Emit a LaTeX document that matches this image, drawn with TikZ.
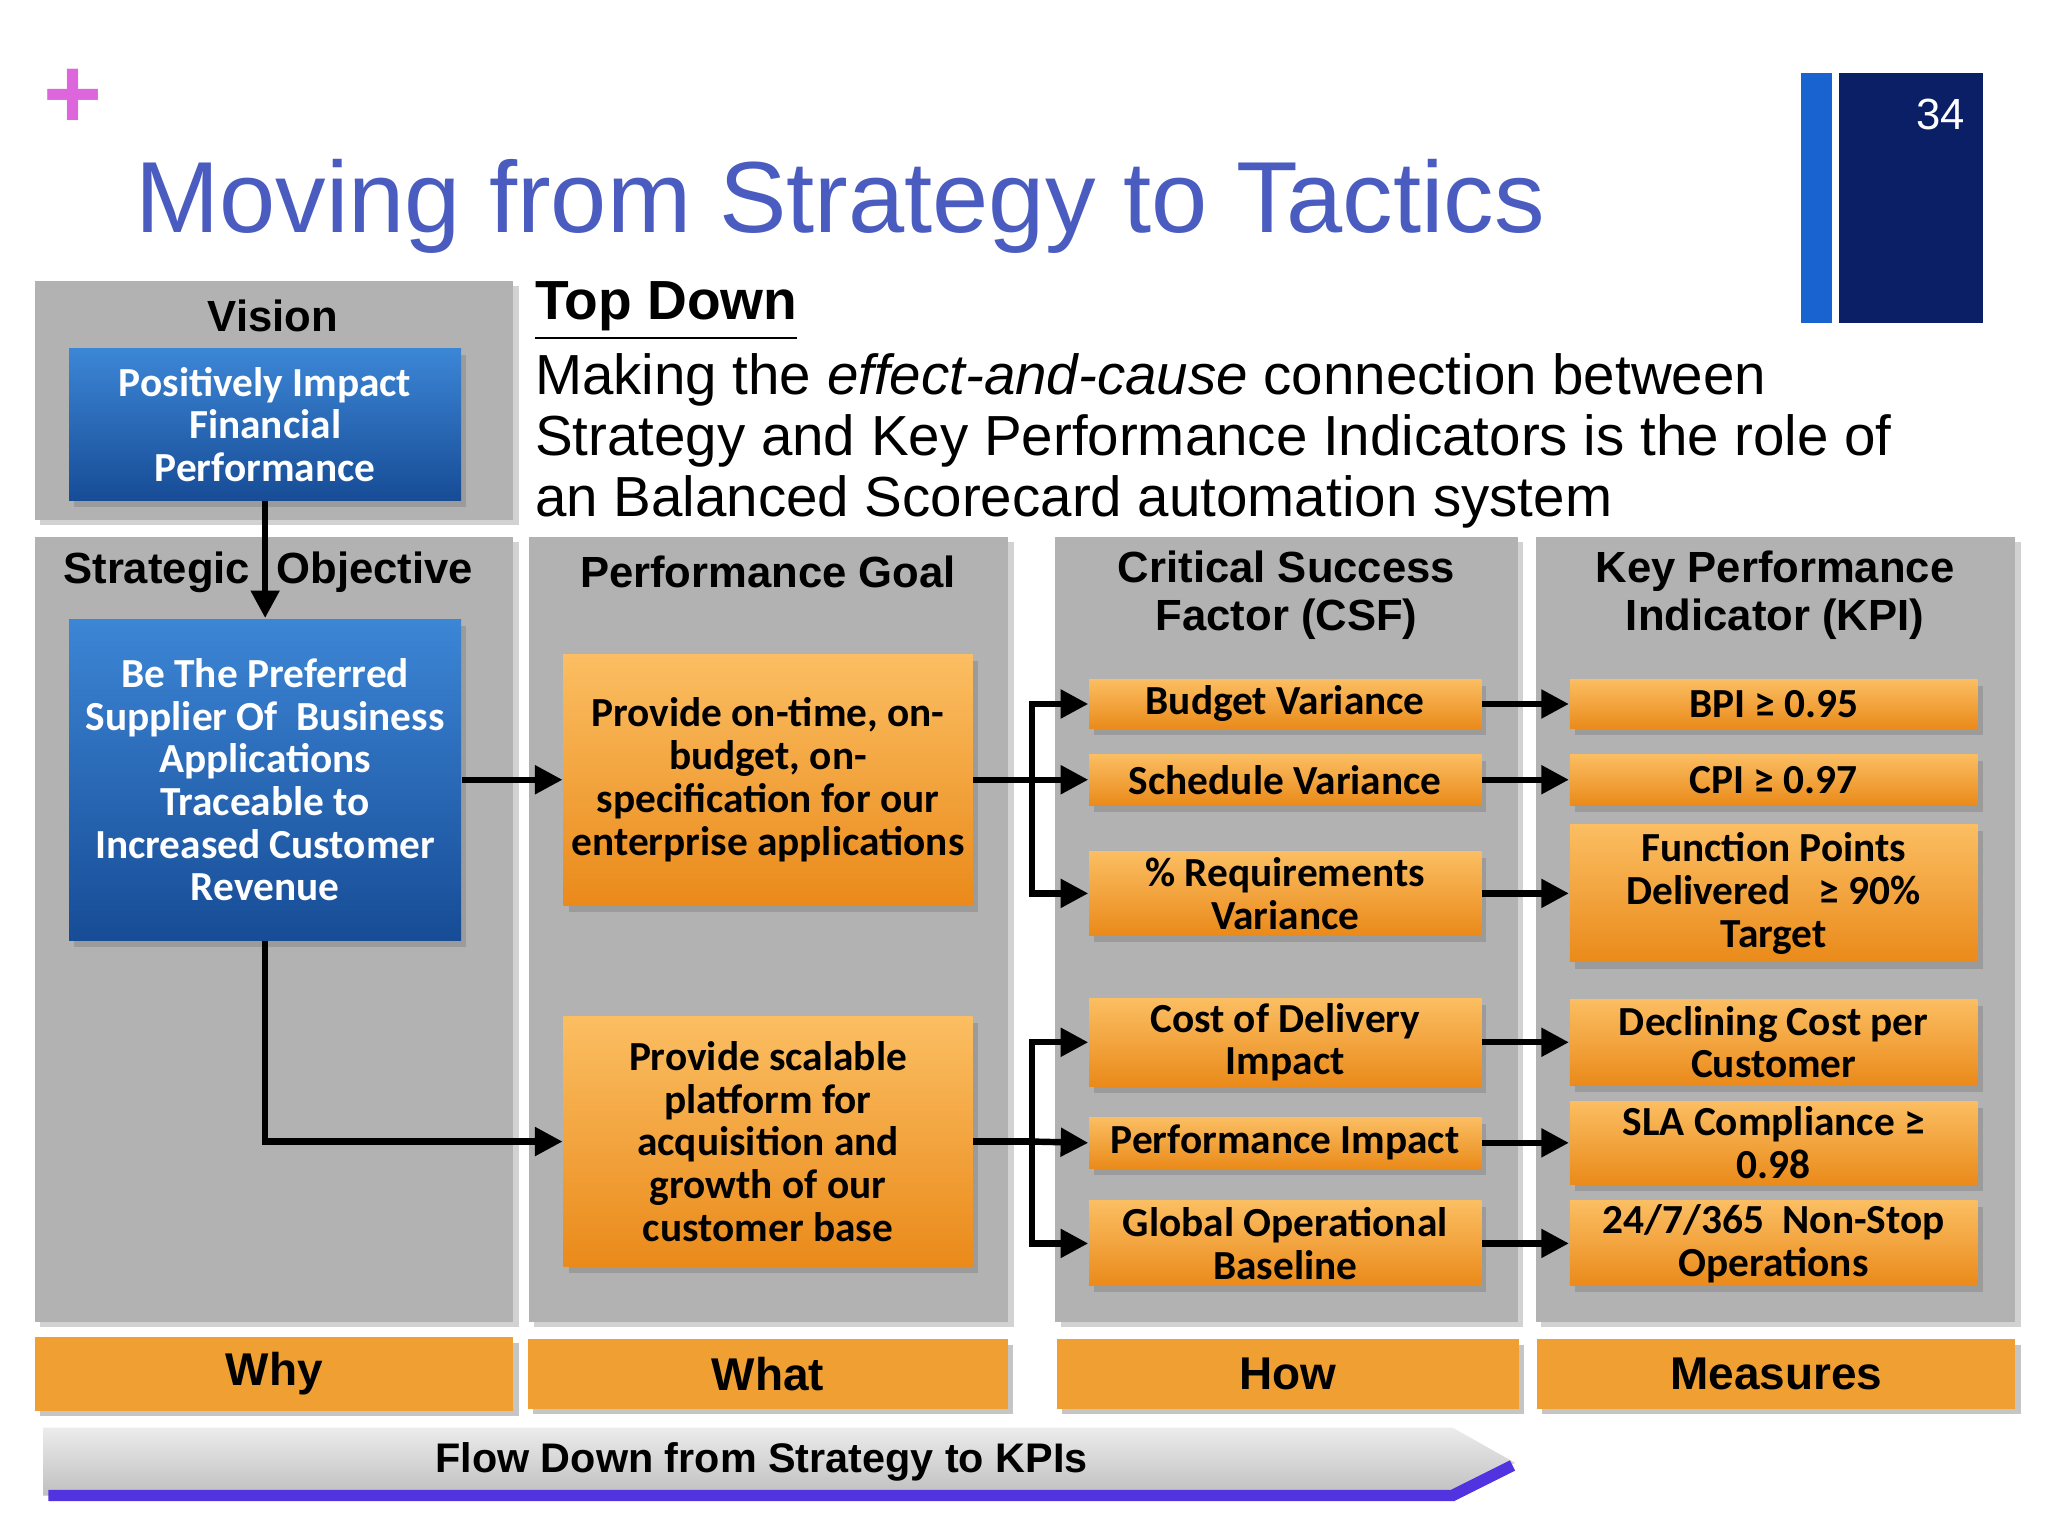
\documentclass[tikz,border=0pt]{standalone}
\usepackage{fontspec}
\setmainfont{Liberation Sans}
\newfontfamily\boxfont{Carlito}
\usetikzlibrary{shadows,arrows.meta}
\definecolor{ttl}{HTML}{4A5CC0}
\definecolor{panel}{HTML}{B2B2B2}
\definecolor{otop}{HTML}{FBBE62}
\definecolor{obot}{HTML}{EA8A1A}
\definecolor{btop}{HTML}{3C86D6}
\definecolor{bbot}{HTML}{174C96}
\definecolor{barc}{HTML}{F0A033}
\definecolor{navy}{HTML}{0A1F66}
\tikzset{
 panel/.style={draw=none,fill=panel,drop shadow={opacity=0.35,shadow xshift=0.04cm,shadow yshift=-0.04cm}},
 ob/.style={draw=none,top color=otop,bottom color=obot,
   font=\boxfont\bfseries\fontsize{9}{9.3}\selectfont,align=center,inner sep=0pt,
   drop shadow={opacity=0.45,shadow xshift=0.04cm,shadow yshift=-0.05cm}},
 bb/.style={draw=none,top color=btop,bottom color=bbot,
   text=white,font=\boxfont\bfseries\fontsize{9}{9.3}\selectfont,align=center,inner sep=0pt,
   drop shadow={opacity=0.45,shadow xshift=0.04cm,shadow yshift=-0.05cm}},
 hd/.style={font=\bfseries\fontsize{9.5}{10.5}\selectfont,align=center},
 bar/.style={draw=none,fill=barc,font=\bfseries\fontsize{10}{12}\selectfont,
   drop shadow={opacity=0.45,shadow xshift=0.04cm,shadow yshift=-0.04cm}},
 ar/.style={line width=1.4pt,-{Triangle[length=6pt,width=6pt]}},
 ln/.style={line width=1.4pt}
}
\begin{document}
\begin{tikzpicture}[x=0.01cm,y=-0.01cm]
\useasboundingbox (0,0) rectangle (1568,1176);
\fill[white] (0,0) rectangle (1568,1176);
% header
\node[text=violet!45!magenta!60!white,font=\bfseries\fontsize{22}{22}\selectfont] (plus) at (56,76) {+};
\node[anchor=base west,text=ttl,font=\fontsize{22}{26}\selectfont,inner sep=0pt] (title) at (103,178) {Moving from Strategy to Tactics};
\fill[blue!60!cyan!80!black!90] (1379,56) rectangle (1403,247);
\fill[navy] (1408,56) rectangle (1518,247);
\node[text=white,font=\fontsize{9.5}{12}\selectfont] (num) at (1486,88) {34};
% top down text
\node[anchor=base west,inner sep=0pt,font=\bfseries\fontsize{12}{14}\selectfont] (td) at (409,245) {\underline{Top Down}};
\node[anchor=north west,inner sep=0pt,align=left,font=\fontsize{12.3}{13.3}\selectfont] (para) at (409,270)
 {Making the \textit{effect-and-cause} connection between\\Strategy and Key Performance Indicators is the role of\\an Balanced Scorecard automation system};
% panels
\path[panel] (27,215) rectangle (393,398);
\path[panel] (27,411) rectangle (393,1012);
\path[panel] (405,411) rectangle (772,1012);
\path[panel] (808,411) rectangle (1162,1012);
\path[panel] (1176,411) rectangle (1543,1012);
\node[hd] (hv) at (209,242) {Vision};
\node[hd] (h1a) at (120,438) {Strategic};
\node[hd] (h1b) at (287,438) {Objective};
\node[hd] (h2) at (588,438) {Performance Goal};
\node[hd] (h3) at (985,456) {Critical Success\\Factor (CSF)};
\node[hd] (h4) at (1359,456) {Key Performance\\Indicator (KPI)};
% blue boxes
\node[bb,minimum width=3cm,minimum height=1.16cm] (vis) at (203,325) {Positively Impact\\Financial\\Performance};
\node[bb,minimum width=3cm,minimum height=2.46cm] (obj) at (203,597) {Be The Preferred\\Supplier Of\ \ Business\\Applications\\Traceable to\\Increased Customer\\Revenue};
% goals
\node[ob,minimum width=3.13cm,minimum height=1.92cm] (g1) at (588,597) {Provide on-time, on-\\budget, on-\\specification for our\\enterprise applications};
\node[ob,minimum width=3.13cm,minimum height=1.91cm] (g2) at (588,874) {Provide scalable\\platform for\\acquisition and\\growth of our\\customer base};
% CSF
\node[ob,minimum width=3cm,minimum height=0.38cm] (c1) at (984,539) {Budget Variance};
\node[ob,minimum width=3cm,minimum height=0.39cm] (c2) at (984,597) {Schedule Variance};
\node[ob,minimum width=3cm,minimum height=0.64cm] (c3) at (984,684) {\% Requirements\\Variance};
\node[ob,minimum width=3cm,minimum height=0.67cm] (c4) at (984,798) {Cost of Delivery\\Impact};
\node[ob,minimum width=3cm,minimum height=0.39cm] (c5) at (984,875) {Performance Impact};
\node[ob,minimum width=3cm,minimum height=0.65cm] (c6) at (984,952) {Global Operational\\Baseline};
% KPI
\node[ob,minimum width=3.12cm,minimum height=0.38cm] (k1) at (1358,539) {BPI ≥ 0.95};
\node[ob,minimum width=3.12cm,minimum height=0.39cm] (k2) at (1358,597) {CPI ≥ 0.97};
\node[ob,minimum width=3.12cm,minimum height=1.05cm] (k3) at (1358,684) {Function Points\\Delivered\ \ \ ≥ 90\%\\Target};
\node[ob,minimum width=3.12cm,minimum height=0.66cm] (k4) at (1358,798) {Declining Cost per\\Customer};
\node[ob,minimum width=3.12cm,minimum height=0.64cm] (k5) at (1358,875) {SLA Compliance ≥\\0.98};
\node[ob,minimum width=3.12cm,minimum height=0.65cm] (k6) at (1358,952) {24/7/365\ \ Non-Stop\\Operations};
% bottom bars
\node[bar,minimum width=3.66cm,minimum height=0.53cm] (why) at (210,1052) {Why};
\node[bar,minimum width=3.67cm,minimum height=0.53cm] (what) at (588,1052) {What};
\node[bar,minimum width=3.53cm,minimum height=0.53cm] (how) at (986,1052) {How};
\node[bar,minimum width=3.66cm,minimum height=0.53cm] (meas) at (1360,1052) {Measures};
% flow banner
\shade[top color=gray!15,bottom color=gray!50] (33,1093) -- (1112,1093) -- (1160,1120) -- (1112,1145) -- (33,1145) -- cycle;
\draw[blue!70!violet!80!white,line width=2.5pt] (37,1145) -- (1112,1145) -- (1158,1122);
\node[font=\bfseries\fontsize{9}{11}\selectfont] (flow) at (583,1119) {Flow Down from Strategy to KPIs};
% connectors
\draw[ar] (vis.south) -- (obj.north);
\draw[ar] (obj.east) -- (g1.west);
\coordinate (corner) at (obj.south |- g2.west);
\draw[ar] (obj.south) -- (corner) -- (g2.west);
\coordinate (b1) at (790,597);
\coordinate (b2) at (790,874);
\draw[ln] (g1.east) -- (b1);
\draw[ar] (b1) |- (c1.west);
\draw[ar] (b1) -- (c2.west);
\draw[ar] (b1) |- (c3.west);
\draw[ln] (g2.east) -- (b2);
\draw[ar] (b2) |- (c4.west);
\draw[ar] (b2) -- (c5.west);
\draw[ar] (b2) |- (c6.west);
\foreach \i in {1,...,6} {\draw[ar] (c\i.east) -- (k\i.west |- c\i.east);}
\end{tikzpicture}
\end{document}
